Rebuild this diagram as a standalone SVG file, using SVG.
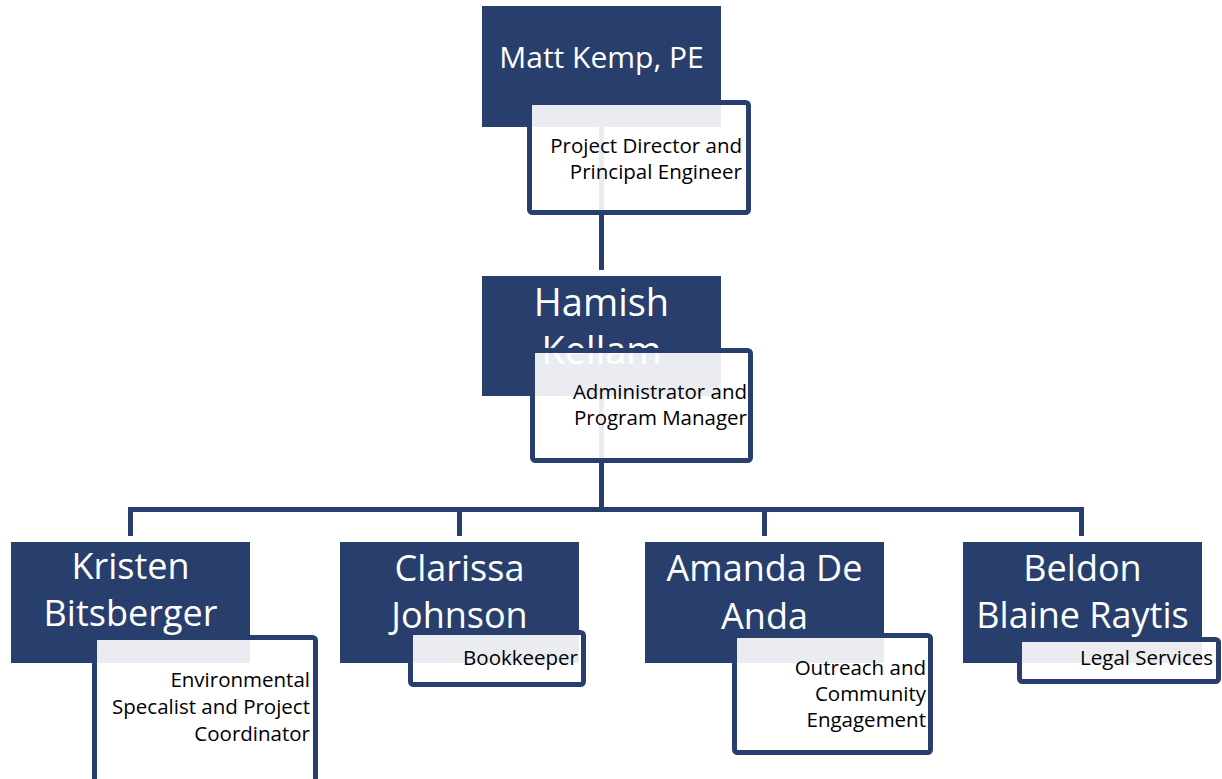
<svg xmlns="http://www.w3.org/2000/svg" width="1222" height="779" viewBox="0 0 1222 779">
  <style>
    .name-box { fill: #283F6E; }
    .role-box { fill: #FFFFFF; fill-opacity: 0.9; stroke: #283F6E; stroke-width: 5; }
    .name { fill: #FFFFFF; font-family: "Open Sans", "Liberation Sans", sans-serif; text-anchor: middle; }
    .role { fill: #000000; font-family: "Open Sans", "Liberation Sans", sans-serif; font-size: 20.5px; text-anchor: end; }
    .link { fill: none; stroke: #283F6E; stroke-width: 5; stroke-linejoin: miter; }
  </style>
  <rect width="1222" height="779" fill="#FFFFFF"/>

  <!-- connectors -->
  <g id="connectors">
    <path class="link" d="M601.5 120 V270"/>
    <path class="link" d="M601.5 390 V509.5"/>
    <path class="link" d="M130.5 536 V509.5 H1081.5 V536"/>
    <path class="link" d="M459.5 509.5 V536"/>
    <path class="link" d="M764.5 509.5 V536"/>
  </g>

  <g id="matt-kemp">
    <rect class="name-box" x="482" y="6" width="239" height="121"/>
    <text class="name" x="601.5" y="68" font-size="30">Matt Kemp, PE</text>
    <rect class="role-box" x="529.5" y="102.5" width="219" height="110" rx="3"/>
    <text class="role" x="742" y="152.5">Project Director and</text>
    <text class="role" x="742" y="179">Principal Engineer</text>
  </g>

  <g id="hamish-kellam">
    <rect class="name-box" x="482" y="276" width="239" height="120"/>
    <text class="name" x="601.5" y="316" font-size="38">Hamish</text>
    <text class="name" x="601.5" y="364" font-size="38">Kellam</text>
    <rect class="role-box" x="532.5" y="350.5" width="218" height="110" rx="3"/>
    <text class="role" x="747" y="399">Administrator and</text>
    <text class="role" x="747" y="425">Program Manager</text>
  </g>

  <g id="kristen-bitsberger">
    <rect class="name-box" x="11" y="542" width="239" height="121"/>
    <text class="name" x="130.5" y="579" font-size="36">Kristen</text>
    <text class="name" x="130.5" y="626" font-size="36">Bitsberger</text>
    <rect class="role-box" x="94.5" y="637.5" width="221" height="160" rx="3"/>
    <text class="role" x="310" y="687">Environmental</text>
    <text class="role" x="310" y="714">Specalist and Project</text>
    <text class="role" x="310" y="741">Coordinator</text>
  </g>

  <g id="clarissa-johnson">
    <rect class="name-box" x="340" y="542" width="239" height="121"/>
    <text class="name" x="459.5" y="581" font-size="36">Clarissa</text>
    <text class="name" x="459.5" y="628" font-size="36">Johnson</text>
    <rect class="role-box" x="410.5" y="632.5" width="173" height="52" rx="3"/>
    <text class="role" x="578" y="665">Bookkeeper</text>
  </g>

  <g id="amanda-de-anda">
    <rect class="name-box" x="645" y="542" width="239" height="121"/>
    <text class="name" x="764.5" y="581" font-size="36">Amanda De</text>
    <text class="name" x="764.5" y="629" font-size="36">Anda</text>
    <rect class="role-box" x="734.5" y="635.5" width="196" height="117" rx="3"/>
    <text class="role" x="926" y="675">Outreach and</text>
    <text class="role" x="926" y="701">Community</text>
    <text class="role" x="926" y="727">Engagement</text>
  </g>

  <g id="beldon-blaine-raytis">
    <rect class="name-box" x="963" y="542" width="239" height="121"/>
    <text class="name" x="1082.5" y="581" font-size="36">Beldon</text>
    <text class="name" x="1082.5" y="628" font-size="36">Blaine Raytis</text>
    <rect class="role-box" x="1019.5" y="639.5" width="199" height="42" rx="3"/>
    <text class="role" x="1213" y="665">Legal Services</text>
  </g>
</svg>
